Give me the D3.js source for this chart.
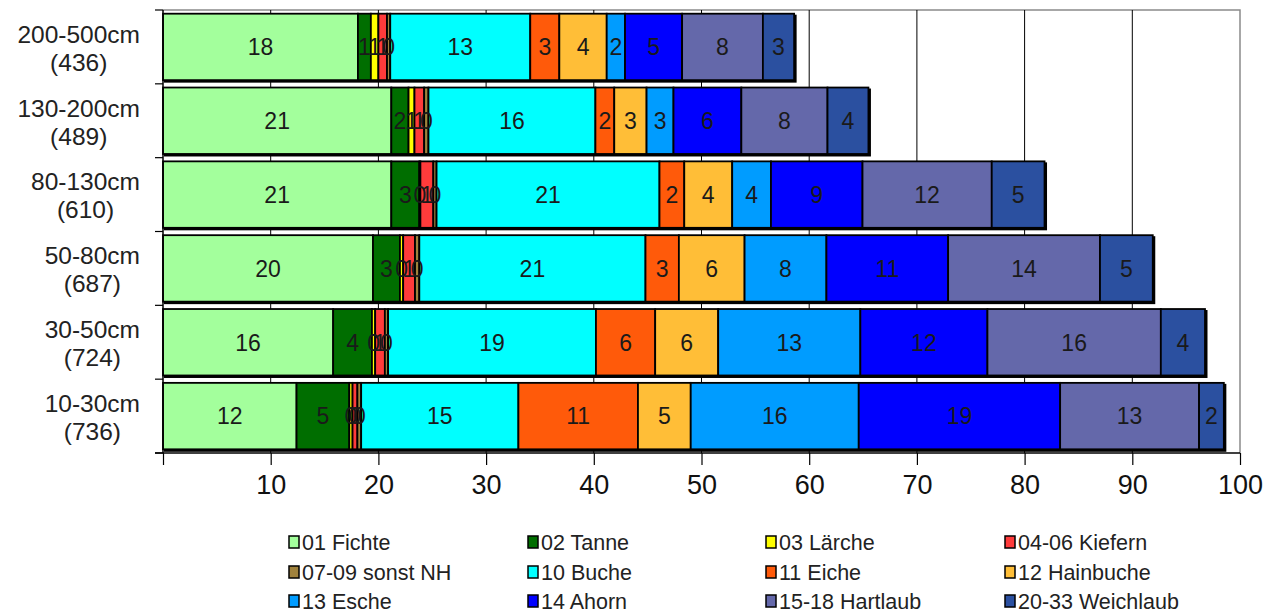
<!DOCTYPE html>
<html>
<head>
<meta charset="utf-8">
<script src="https://cdn.jsdelivr.net/npm/d3@7"></script>
<style>
  body { margin: 0; background: #fff; }
  svg { font-family: Arial, "Liberation Sans", sans-serif; }
</style>
</head>
<body>
<div id="chart"></div>
<script>
// Kategorien (von oben nach unten) und Stückzahlen
const classes = ["200-500cm", "130-200cm", "80-130cm", "50-80cm", "30-50cm", "10-30cm"];
const counts = ["(436)", "(489)", "(610)", "(687)", "(724)", "(736)"];

// Anteile je Baumart (gleiche Reihenfolge wie classes)
const fichte    = [18.1, 21.2, 21.2, 19.5, 15.8, 12.4];
const tanne     = [1.2, 1.6, 2.6, 2.5, 3.6, 4.9];
const laerche   = [0.7, 0.55, 0.1, 0.3, 0.3, 0.3];
const kiefern   = [0.8, 0.9, 1.2, 1.1, 0.9, 0.45];
const sonstNH   = [0.3, 0.4, 0.3, 0.4, 0.3, 0.35];
const buche     = [13.0, 15.5, 20.7, 21.0, 19.3, 14.6];
const eiche     = [2.7, 1.75, 2.3, 3.1, 5.5, 11.1];
const hainbuche = [4.4, 3.0, 4.45, 6.1, 5.85, 4.9];
const esche     = [1.7, 2.5, 3.6, 7.6, 13.2, 15.6];
const ahorn     = [5.3, 6.3, 8.5, 11.3, 11.8, 18.7];
const hartlaub  = [7.5, 8.0, 12.0, 14.1, 16.1, 12.9];
const weichlaub = [2.9, 3.8, 4.9, 4.9, 4.1, 2.3];

const seriesNames = ["01 Fichte", "02 Tanne", "03 Lärche", "04-06 Kiefern",
  "07-09 sonst NH", "10 Buche", "11 Eiche", "12 Hainbuche",
  "13 Esche", "14 Ahorn", "15-18 Hartlaub", "20-33 Weichlaub"];
const seriesValues = [fichte, tanne, laerche, kiefern, sonstNH, buche,
  eiche, hainbuche, esche, ahorn, hartlaub, weichlaub];
const seriesColors = ["#a3ff9c", "#006e00", "#ffff00", "#ff3b3b",
  "#a0823c", "#00ffff", "#ff5a0a", "#ffbe37",
  "#009cff", "#0000ff", "#6468aa", "#2b50a0"];
const xTicks = [0, 10, 20, 30, 40, 50, 60, 70, 80, 90, 100];

const W = 1268, H = 614;
const plot = { left: 163, right: 1240, top: 10, bottom: 453 };

const svg = d3.select("#chart").append("svg")
  .attr("width", W).attr("height", H);

const x = d3.scaleLinear().domain([0, 100]).range([plot.left, plot.right]);
const y = d3.scaleBand().domain(classes)
  .range([plot.top, plot.bottom])
  .paddingInner(0.1).paddingOuter(0.05);

// Tabelle für d3.stack bauen
const keys = d3.range(seriesNames.length);
const table = classes.map((c, i) => {
  const row = { cls: c };
  keys.forEach(k => { row[k] = seriesValues[k][i]; });
  return row;
});
const stacked = d3.stack().keys(keys)(table);

// Rahmen des Plotbereichs (grau oben/rechts)
svg.append("path")
  .attr("d", `M${plot.left},${plot.top}H${plot.right}V${plot.bottom}`)
  .attr("fill", "none").attr("stroke", "#8a8a8a").attr("stroke-width", 1.5);

// vertikale Gitterlinien
svg.append("g").selectAll("line")
  .data(xTicks.filter(t => t > 0 && t < 100))
  .enter().append("line")
  .attr("x1", d => x(d)).attr("x2", d => x(d))
  .attr("y1", plot.top).attr("y2", plot.bottom)
  .attr("stroke", "#000").attr("stroke-width", 1);

// Schatten / Umriss jedes Balkens
const totals = table.map(r => d3.sum(keys, k => r[k]));
svg.append("g").selectAll("rect")
  .data(classes)
  .enter().append("rect")
  .attr("x", x(0) + 1)
  .attr("y", d => y(d) + 1)
  .attr("width", (d, i) => x(totals[i]) - x(0) + 1.5)
  .attr("height", y.bandwidth() + 1.5)
  .attr("fill", "#000");

// Segmente
const layers = svg.append("g").selectAll("g")
  .data(stacked)
  .enter().append("g")
  .attr("fill", d => seriesColors[d.key]);

layers.selectAll("rect")
  .data(d => d)
  .enter().append("rect")
  .attr("x", d => x(d[0]))
  .attr("y", d => y(d.data.cls))
  .attr("width", d => x(d[1]) - x(d[0]))
  .attr("height", y.bandwidth())
  .attr("stroke", "#000").attr("stroke-width", 1.8);

// Datenbeschriftungen
const labels = svg.append("g")
  .attr("font-size", 23).attr("fill", "#1a1a1a")
  .attr("text-anchor", "middle");
stacked.forEach(layer => {
  labels.selectAll(null)
    .data(layer)
    .enter().append("text")
    .attr("x", d => (x(d[0]) + x(d[1])) / 2)
    .attr("y", d => y(d.data.cls) + y.bandwidth() / 2)
    .attr("dy", "0.36em")
    .text(d => Math.round(d[1] - d[0]));
});

// y-Achse
svg.append("line")
  .attr("x1", plot.left).attr("x2", plot.left)
  .attr("y1", plot.top).attr("y2", plot.bottom)
  .attr("stroke", "#000").attr("stroke-width", 1.5);
svg.append("g").selectAll("line")
  .data(d3.range(classes.length + 1))
  .enter().append("line")
  .attr("x1", plot.left - 8).attr("x2", plot.left)
  .attr("y1", i => plot.top + i * (plot.bottom - plot.top) / classes.length)
  .attr("y2", i => plot.top + i * (plot.bottom - plot.top) / classes.length)
  .attr("stroke", "#000").attr("stroke-width", 1.2);

// Kategorie-Beschriftung: zweizeilig, Block rechtsbündig, Zeilen zentriert
const catG = svg.append("g").attr("font-size", 24.5).attr("fill", "#222");
classes.forEach((c, i) => {
  const cy = y(c) + y.bandwidth() / 2;
  const t1 = catG.append("text")
    .attr("x", 140).attr("y", cy - 13).attr("dy", "0.36em")
    .attr("text-anchor", "end").text(c);
  const w1 = t1.node().getComputedTextLength();
  catG.append("text")
    .attr("x", 140 - w1 / 2).attr("y", cy + 15).attr("dy", "0.36em")
    .attr("text-anchor", "middle").text(counts[i]);
});

// x-Achse
const xAxis = d3.axisBottom(x).tickValues(xTicks)
  .tickSize(12).tickPadding(10)
  .tickFormat(d => d === 0 ? "" : d);
const gx = svg.append("g")
  .attr("transform", `translate(0,${plot.bottom})`)
  .call(xAxis);
gx.select(".domain").attr("stroke", "#000").attr("stroke-width", 1.5)
  .attr("d", `M${plot.left - 8},0H${plot.right}`);
gx.selectAll(".tick line").attr("stroke", "#000").attr("stroke-width", 1.2);
gx.selectAll(".tick text")
  .attr("font-size", 27).attr("fill", "#111")
  .attr("font-family", "Arial, 'Liberation Sans', sans-serif");

// Legende (4 Spalten, 3 Zeilen)
const legX = [289, 528, 766, 1005];
const legY = [542, 572, 601];
const leg = svg.append("g");
seriesNames.forEach((name, i) => {
  const lx = legX[i % 4], ly = legY[Math.floor(i / 4)];
  leg.append("rect")
    .attr("x", lx).attr("y", ly - 6)
    .attr("width", 10).attr("height", 12)
    .attr("fill", seriesColors[i])
    .attr("stroke", "#000").attr("stroke-width", 1.5);
  leg.append("text")
    .attr("x", lx + 13).attr("y", ly).attr("dy", "0.36em")
    .attr("font-size", 21.5).attr("fill", "#222")
    .text(name);
});
</script>
</body>
</html>
